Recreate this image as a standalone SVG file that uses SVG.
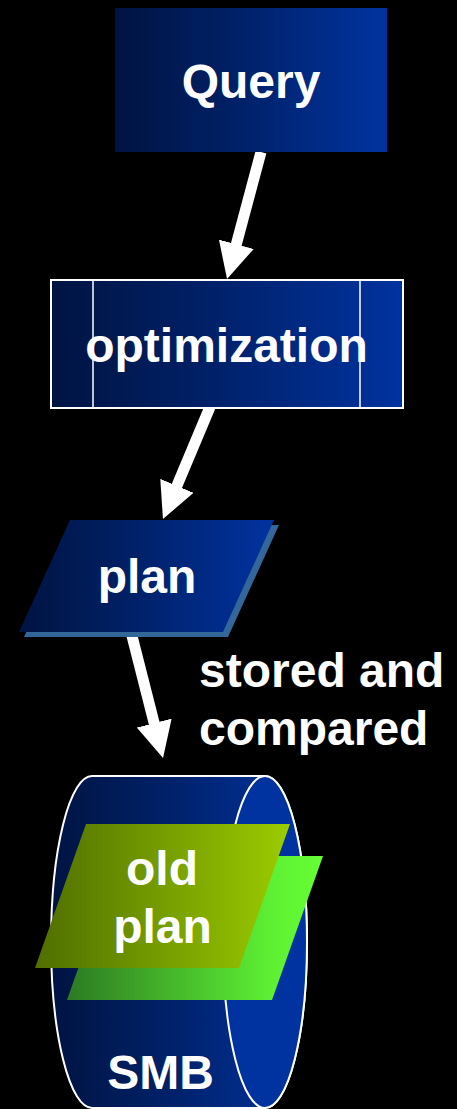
<svg xmlns="http://www.w3.org/2000/svg" width="457" height="1109" viewBox="0 0 457 1109">
<style>
.t{font-family:"Liberation Sans",Arial,sans-serif;font-weight:bold;font-size:48px;fill:#ffffff;text-anchor:middle}
.tl{font-family:"Liberation Sans",Arial,sans-serif;font-weight:bold;font-size:48px;fill:#ffffff}
.conn{stroke:#ffffff;stroke-width:11;fill:none}
</style>
<defs>
<linearGradient id="navy" x1="0" y1="0" x2="1" y2="0">
<stop offset="0" stop-color="#001442"/>
<stop offset="0.4" stop-color="#001f63"/>
<stop offset="1" stop-color="#0033a0"/>
</linearGradient>
<linearGradient id="olive" x1="0" y1="0" x2="1" y2="0">
<stop offset="0" stop-color="#4f6e00"/>
<stop offset="1" stop-color="#9ccc00"/>
</linearGradient>
<linearGradient id="lime" x1="0" y1="0" x2="1" y2="0">
<stop offset="0" stop-color="#2c7a22"/>
<stop offset="0.8" stop-color="#5ef033"/>
<stop offset="1" stop-color="#66ff33"/>
</linearGradient>
<marker id="ah" viewBox="0 0 36 36" refX="16" refY="18" markerWidth="36" markerHeight="36" markerUnits="userSpaceOnUse" orient="auto">
<path d="M0,0 L36,18 L0,36 Z" fill="#ffffff"/>
</marker>
</defs>
<rect width="457" height="1109" fill="#000000"/>
<g id="connectors">
<line class="conn" x1="261" y1="152" x2="232.2" y2="259.7" marker-end="url(#ah)"/>
<line class="conn" x1="210" y1="407" x2="170.7" y2="500.6" marker-end="url(#ah)"/>
<line class="conn" x1="131" y1="632" x2="158.1" y2="738.6" marker-end="url(#ah)"/>
</g>
<g id="query">
<rect x="115" y="8" width="272" height="144" fill="url(#navy)"/>
<text class="t" x="251" y="98">Query</text>
</g>
<g id="optimization">
<rect x="51" y="280" width="352" height="128" fill="url(#navy)" stroke="#ffffff" stroke-width="2"/>
<line x1="93" y1="281" x2="93" y2="407" stroke="#ffffff" stroke-width="1.5"/>
<line x1="360" y1="281" x2="360" y2="407" stroke="#ffffff" stroke-width="1.5"/>
<text class="t" x="226.5" y="362">optimization</text>
</g>
<g id="plan">
<polygon points="75,525 279,525 228,637 24,637" fill="#336699"/>
<polygon points="70,520 274,520 223,632 19,632" fill="url(#navy)"/>
<text class="t" x="147" y="593">plan</text>
</g>
<g id="label">
<text class="tl" x="199" y="687">stored and</text>
<text class="tl" x="199" y="745">compared</text>
</g>
<g id="smb">
<path d="M92,776 L265,776 A42,166 0 0 1 265,1108 L92,1108 A41,166 0 0 1 92,776 Z" fill="url(#navy)" stroke="#ffffff" stroke-width="2"/>
<ellipse cx="265" cy="942" rx="42" ry="166" fill="#0033a0" stroke="#ffffff" stroke-width="2"/>
<text class="t" x="160.5" y="1089">SMB</text>
</g>
<g id="old-plan">
<polygon points="118,856 323,856 272,1000 67,1000" fill="url(#lime)"/>
<polygon points="86,824 290,824 239,968 35,968" fill="url(#olive)"/>
<text class="t" x="162" y="885">old</text>
<text class="t" x="162.5" y="943">plan</text>
</g>
</svg>
